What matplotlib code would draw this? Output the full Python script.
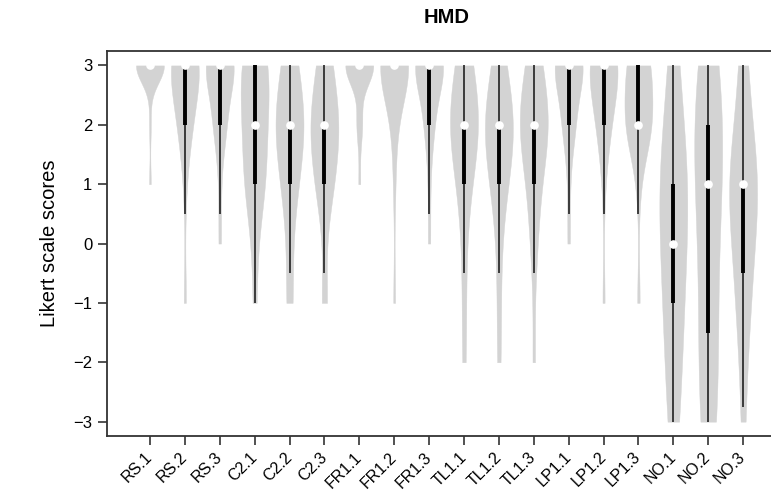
import numpy as np
import matplotlib
matplotlib.use("Agg")
from matplotlib import pyplot as plt

plt.rcParams['font.family'] = ['Liberation Sans', 'DejaVu Sans']

# Likert levels and response counts per item (levels -3 .. 3)
levels = np.array([-3, -2, -1, 0, 1, 2, 3])
items = ["RS.1", "RS.2", "RS.3", "C2.1", "C2.2", "C2.3",
         "FR1.1", "FR1.2", "FR1.3", "TL1.1", "TL1.2", "TL1.3",
         "LP1.1", "LP1.2", "LP1.3", "NO.1", "NO.2", "NO.3"]
rs1 = [0, 0, 0, 0, 1, 1, 17]
rs2 = [0, 0, 1, 0, 1, 5, 12]
rs3 = [0, 0, 0, 1, 1, 5, 12]
c21 = [0, 0, 1, 1, 5, 5, 7]
c22 = [0, 0, 2, 1, 4, 8, 4]
c23 = [0, 0, 2, 0, 5, 8, 4]
fr11 = [0, 0, 0, 0, 1, 3, 15]
fr12 = [0, 0, 1, 0, 1, 2, 15]
fr13 = [0, 0, 0, 1, 1, 4, 13]
tl11 = [0, 1, 1, 1, 3, 9, 4]
tl12 = [0, 1, 1, 1, 4, 9, 3]
tl13 = [0, 1, 0, 2, 3, 9, 4]
lp11 = [0, 0, 0, 1, 1, 5, 12]
lp12 = [0, 0, 1, 0, 1, 5, 12]
lp13 = [0, 0, 1, 0, 1, 9, 8]
no1 = [2, 2, 3, 3, 5, 2, 2]
no2 = [3, 2, 2, 2, 3, 4, 3]
no3 = [1, 1, 3, 3, 7, 2, 2]
counts = [rs1, rs2, rs3, c21, c22, c23, fr11, fr12, fr13,
          tl11, tl12, tl13, lp11, lp12, lp13, no1, no2, no3]

samples = [np.repeat(levels, c) for c in counts]
pos = np.arange(1, len(items) + 1)

fig = plt.figure(figsize=(7.71, 4.92), dpi=100)
ax = fig.add_axes([0.1388, 0.114, 0.8807, 0.782])

parts = ax.violinplot(samples, positions=pos, widths=0.8, showextrema=False,
                      bw_method='silverman')
for body in parts['bodies']:
    body.set_facecolor('#d3d3d3')
    body.set_edgecolor('#d3d3d3')
    body.set_linewidth(0.3)
    body.set_alpha(1)

# box: thin whiskers, thick IQR bar, white median dot
for x, s in zip(pos, samples):
    q1, med, q3 = np.percentile(s, [25, 50, 75])
    iqr = q3 - q1
    lo = max(s.min(), q1 - 1.5 * iqr)
    hi = min(s.max(), q3 + 1.5 * iqr)
    ax.vlines(x, lo, hi, color='#111111', lw=1.1, zorder=3)
    ax.vlines(x, q1, q3, color='black', lw=2.8, zorder=4)
    ax.plot(x, med, 'o', color='white', ms=5.2, mec='white', zorder=5)

ax.set_xlim(-0.23, 19.23)
ax.set_ylim(-3.24, 3.24)
ax.set_yticks([-3, -2, -1, 0, 1, 2, 3])
ax.set_yticklabels(['\u22123', '\u22122', '\u22121', '0', '1', '2', '3'])
ax.set_xticks(pos)
ax.set_xticklabels(items, rotation=45, ha='right', va='center',
                   rotation_mode='anchor')

for sp in ax.spines.values():
    sp.set_linewidth(1.3)
    sp.set_color('#333333')
ax.tick_params(direction='out', length=6.5, width=1.2, color='#333333',
               labelsize=12, pad=4)
ax.tick_params(axis='x', pad=7, labelsize=11.5)

ax.set_ylabel('Likert scale scores', fontsize=14.5, labelpad=10)
ax.set_title('HMD', fontsize=14.5, fontweight='bold', pad=20)

fig.savefig('out.png', dpi=100)
